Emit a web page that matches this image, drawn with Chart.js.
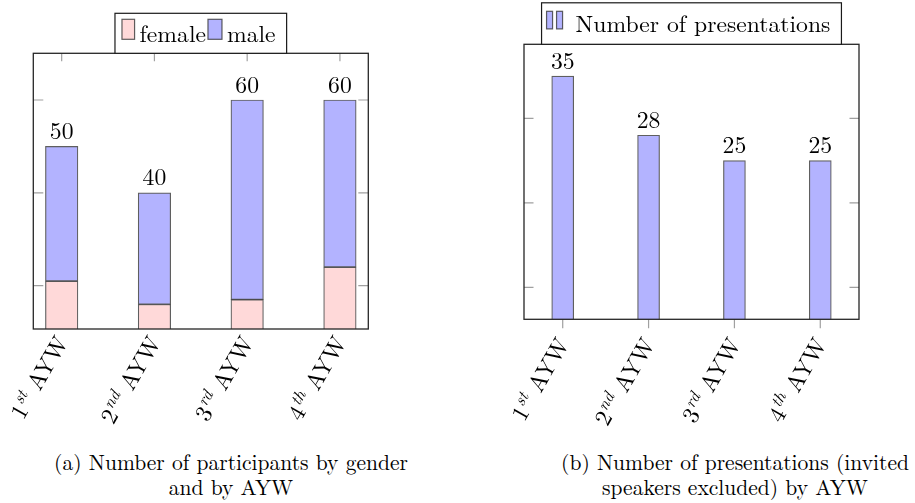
<!DOCTYPE html>
<html><head><meta charset="utf-8">
<script src="https://cdn.jsdelivr.net/npm/chart.js@4.4.1/dist/chart.umd.min.js"></script>
<style>
html,body{margin:0;padding:0;background:#fff;width:915px;height:503px;overflow:hidden;position:relative}
canvas{position:absolute;top:0}
#c1{left:0}
#c2{left:458px}
.cap{position:absolute;font-size:24px;line-height:25px;text-align:center;color:#000;white-space:nowrap}
</style></head><body>
<canvas id="c1" width="458" height="440"></canvas>
<canvas id="c2" width="457" height="440"></canvas>
<div class="cap" id="capA" style="left:31px;width:400px;top:449px">(a) Number of participants by gender<br>and by AYW</div>
<div class="cap" id="capB" style="left:535px;width:400px;top:449px">(b) Number of presentations (invited<br>speakers excluded) by AYW</div>
<script>
// ---- data ----
const ordinalNumbers = ['1', '2', '3', '4'];
const ordinalSuffixes = ['st', 'nd', 'rd', 'th'];
const categoryWord = 'AYW';
const femaleParticipants = [21, 16, 17, 24];
const maleParticipants = [29, 24, 43, 36];
const presentations = [35, 28, 25, 25];
const participantTicks = [20, 40, 60];
const presentationTicks = [10, 20, 30];
const participantLegend = ['female', 'male'];
const presentationLegend = ['Number of presentations'];

const totalParticipants = femaleParticipants.map((v, i) => v + maleParticipants[i]);
const toXY = arr => arr.map((v, i) => ({x: i + 1, y: v}));

const FEMALE_FILL = 'rgb(255,217,217)';
const MALE_FILL = 'rgb(179,179,255)';
const BAR_BORDER = 'rgba(50,50,50,0.78)';

// ---- pick an installed serif font (closest to the LaTeX look) ----
const mctx = document.createElement('canvas').getContext('2d');
function hasFont(name) {
  const s = 'mmmmmmmmmmlliWWQ0123456789abcdef';
  for (const base of ['monospace', 'sans-serif']) {
    mctx.font = '40px ' + base; const w0 = mctx.measureText(s).width;
    mctx.font = '40px "' + name + '", ' + base; const w1 = mctx.measureText(s).width;
    if (Math.abs(w0 - w1) > 0.5) return true;
  }
  return false;
}
const serifCandidates = ['Latin Modern Roman', 'CMU Serif', 'Liberation Serif', 'Tinos', 'Times New Roman',
  'Nimbus Roman', 'Nimbus Roman No9 L', 'TeX Gyre Termes', 'FreeSerif', 'Noto Serif', 'DejaVu Serif',
  'Source Serif Pro', 'Georgia', 'Gelasio', 'C059', 'P052'];
let fam = serifCandidates.find(hasFont);
const FONT = (fam ? '"' + fam + '", ' : '') + 'serif';
function sizeFor(text, target, italic) {
  mctx.font = (italic ? 'italic ' : '') + '100px ' + FONT;
  return 100 * target / mctx.measureText(text).width;
}
const FS = Math.min(27, Math.max(18, sizeFor('Number of presentations', 255)));
const CAP_FS = Math.min(26, Math.max(17, sizeFor('(a) Number of participants by gender', 354)));
for (const id of ['capA', 'capB']) {
  const el = document.getElementById(id);
  el.style.fontFamily = FONT;
  el.style.fontSize = CAP_FS.toFixed(2) + 'px';
}

const pgfPlugin = {
  id: 'pgf',
  beforeDatasetsDraw(chart, args, o) {
    const {ctx, chartArea: a, scales: {x, y}} = chart;
    ctx.save();
    ctx.strokeStyle = '#a0a0a0';
    ctx.lineWidth = 1.2;
    ctx.beginPath();
    o.yTicks.forEach(v => {
      const py = y.getPixelForValue(v);
      ctx.moveTo(a.left, py); ctx.lineTo(a.left + o.tickLen, py);
      ctx.moveTo(a.right, py); ctx.lineTo(a.right - o.tickLen, py);
    });
    if (o.xTicksInside) {
      o.categories.forEach((c, i) => {
        const px = x.getPixelForValue(i + 1);
        ctx.moveTo(px, a.top); ctx.lineTo(px, a.top + o.xTickLen);
        ctx.moveTo(px, a.bottom); ctx.lineTo(px, a.bottom - o.xTickLen);
      });
    }
    ctx.stroke();
    ctx.restore();
  },
  afterDatasetsDraw(chart, args, o) {
    const {ctx, chartArea: a, scales: {x, y}} = chart;
    const fs = FS;
    ctx.save();
    if (!o.xTicksInside) {
      ctx.strokeStyle = '#a0a0a0';
      ctx.lineWidth = 1.2;
      ctx.beginPath();
      o.categories.forEach((c, i) => {
        const px = x.getPixelForValue(i + 1);
        ctx.moveTo(px, a.bottom); ctx.lineTo(px, a.bottom + o.xTickLen);
      });
      ctx.stroke();
    }
    ctx.strokeStyle = '#262626';
    ctx.lineWidth = 1.3;
    ctx.strokeRect(a.left, a.top, a.right - a.left, a.bottom - a.top);

    ctx.fillStyle = '#000';
    ctx.font = fs + 'px ' + FONT;
    ctx.textAlign = 'center';
    ctx.textBaseline = 'alphabetic';
    o.values.forEach((v, i) => {
      ctx.fillText(String(v), x.getPixelForValue(i + 1), y.getPixelForValue(v) - 7.5);
    });

    o.categories.forEach((c, i) => {
      const px = x.getPixelForValue(i + 1);
      ctx.save();
      ctx.translate(px + o.labelDx, a.bottom + o.labelDy);
      ctx.rotate(-Math.PI / 3);
      ctx.textAlign = 'left';
      ctx.textBaseline = 'alphabetic';
      const fNum = fs + 'px ' + FONT, fSup = 'italic ' + (fs * 0.7).toFixed(1) + 'px ' + FONT, fWord = fs + 'px ' + FONT;
      ctx.font = fNum; const wN = ctx.measureText(c.num).width;
      ctx.font = fSup; const wS = ctx.measureText(c.sup).width;
      ctx.font = fWord; const wW = ctx.measureText(' ' + categoryWord).width;
      let cx = -(wN + wS + wW + 1);
      const base = 8;
      ctx.font = fNum; ctx.fillText(c.num, cx, base); cx += wN + 1;
      ctx.font = fSup; ctx.fillText(c.sup, cx, base - 9); cx += wS;
      ctx.font = fWord; ctx.fillText(' ' + categoryWord, cx, base);
      ctx.restore();
    });

    const L = o.legend;
    ctx.font = fs + 'px ' + FONT;
    ctx.textAlign = 'left';
    ctx.textBaseline = 'alphabetic';
    let w = L.padL;
    L.items.forEach((it, k) => {
      w += it.swatches.length * it.sw + (it.swatches.length - 1) * it.sgap + it.tgap + ctx.measureText(it.label).width;
      if (k < L.items.length - 1) w += L.gap;
    });
    w += L.padR;
    const cxm = (a.left + a.right) / 2;
    const bx = cxm - w / 2, by = a.top - L.h;
    ctx.fillStyle = '#fff';
    ctx.fillRect(bx, by, w, L.h);
    ctx.strokeStyle = '#1a1a1a';
    ctx.lineWidth = 1.2;
    ctx.strokeRect(bx, by, w, L.h);
    let lx = bx + L.padL;
    L.items.forEach((it, k) => {
      it.swatches.forEach((col, s) => {
        ctx.fillStyle = col;
        ctx.fillRect(lx, by + L.swTop, it.sw, L.swH);
        ctx.strokeStyle = BAR_BORDER;
        ctx.lineWidth = 1.2;
        ctx.strokeRect(lx, by + L.swTop, it.sw, L.swH);
        lx += it.sw + (s < it.swatches.length - 1 ? it.sgap : 0);
      });
      lx += it.tgap;
      ctx.fillStyle = '#000';
      ctx.fillText(it.label, lx, by + L.base);
      lx += ctx.measureText(it.label).width + L.gap;
    });
    ctx.restore();
  }
};

const cats = ordinalNumbers.map((n, i) => ({num: n, sup: ordinalSuffixes[i]}));

function baseOptions(xmin, xmax, ymin, ymax, pad) {
  return {
    responsive: false,
    animation: false,
    devicePixelRatio: 1,
    layout: {padding: pad},
    scales: {
      x: {type: 'linear', min: xmin, max: xmax, display: false, stacked: true, offset: false},
      y: {type: 'linear', min: ymin, max: ymax, display: false, stacked: true}
    },
    plugins: {legend: {display: false}, tooltip: {enabled: false}}
  };
}

const optA = baseOptions(0.694, 4.306, 10.67, 70.06, {left: 33.3, top: 53.3, right: 89.7, bottom: 111});
optA.plugins.pgf = {
  yTicks: participantTicks, tickLen: 10, xTickLen: 8, xTicksInside: true,
  categories: cats, values: totalParticipants, labelDx: 0, labelDy: 9,
  legend: {
    h: 40, padL: 7, padR: 11, gap: 2, swTop: 6, swH: 20, base: 28.5,
    items: [
      {label: participantLegend[0], swatches: [FEMALE_FILL], sw: 12.6, sgap: 0, tgap: 5},
      {label: participantLegend[1], swatches: [MALE_FILL], sw: 14, sgap: 0, tgap: 5}
    ]
  }
};
new Chart(document.getElementById('c1'), {
  type: 'bar',
  data: {
    datasets: [
      {label: participantLegend[0], data: toXY(femaleParticipants), backgroundColor: FEMALE_FILL,
       borderColor: BAR_BORDER, borderWidth: 1.2, borderSkipped: false, barThickness: 32.5},
      {label: participantLegend[1], data: toXY(maleParticipants), backgroundColor: MALE_FILL,
       borderColor: BAR_BORDER, borderWidth: 1.2, borderSkipped: false, barThickness: 32.5}
    ]
  },
  options: optA,
  plugins: [pgfPlugin]
});

const optB = baseOptions(0.549, 4.451, 6.21, 38.76, {left: 66, top: 44.3, right: 56, bottom: 120.7});
optB.plugins.pgf = {
  yTicks: presentationTicks, tickLen: 9.5, xTickLen: 9, xTicksInside: false,
  categories: cats, values: presentations, labelDx: 0, labelDy: 20.5,
  legend: {
    h: 41.5, padL: 5, padR: 11, gap: 0, swTop: 8.5, swH: 17.6, base: 29.5,
    items: [
      {label: presentationLegend[0], swatches: [MALE_FILL, MALE_FILL], sw: 6, sgap: 4, tgap: 13}
    ]
  }
};
new Chart(document.getElementById('c2'), {
  type: 'bar',
  data: {
    datasets: [
      {label: presentationLegend[0], data: toXY(presentations), backgroundColor: MALE_FILL,
       borderColor: BAR_BORDER, borderWidth: 1.2, borderSkipped: false, barThickness: 22}
    ]
  },
  options: optB,
  plugins: [pgfPlugin]
});
</script>
</body></html>
